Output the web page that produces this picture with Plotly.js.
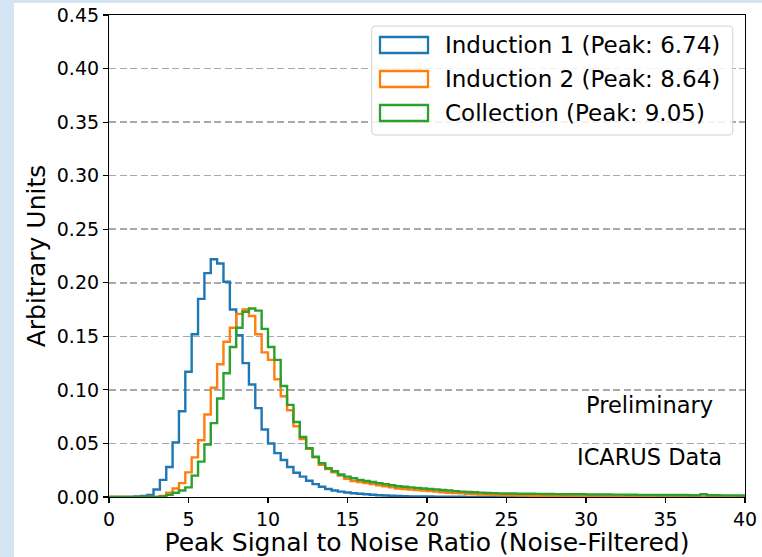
<!DOCTYPE html>
<html>
<head>
<meta charset="utf-8">
<script src="https://cdn.plot.ly/plotly-3.0.1.min.js"></script>
<style>
  html, body { margin: 0; padding: 0; background: #d5e4f3; width: 762px; height: 557px; overflow: hidden; }
  #plot { position: absolute; left: 14px; top: 3px; width: 748px; height: 554px; background: #ffffff; }
</style>
</head>
<body>
<div id="plot"></div>
<script>
// Bin edges: 0 to 40 in 100 bins (width 0.4)
const binStart = 0;
const binEnd = 40;
const nBins = 100;

const seriesNames = ["Induction 1 (Peak: 6.74)", "Induction 2 (Peak: 8.64)", "Collection (Peak: 9.05)"];
const seriesColors = ["#1f77b4", "#ff7f0e", "#2ca02c"];

const induction1 = [
  0, 0, 0, 0, 0.0005, 0.001, 0.002, 0.007, 0.016, 0.028,
  0.051, 0.080, 0.117, 0.152, 0.185, 0.209, 0.222, 0.218, 0.201, 0.175,
  0.151, 0.125, 0.105, 0.083, 0.063, 0.050, 0.041, 0.0345, 0.028, 0.0227,
  0.019, 0.0152, 0.012, 0.0096, 0.0075, 0.006, 0.005, 0.0042, 0.0035, 0.003,
  0.0025, 0.0021, 0.0017, 0.0014, 0.0011, 0.0009, 0.0007, 0.0006, 0.0005, 0.0004,
  0.0004, 0.0003, 0.0003, 0.0002, 0.0002, 0.0002, 0.0001, 0.0001, 0.0001, 0.0001,
  0, 0, 0, 0, 0, 0, 0, 0, 0, 0,
  0, 0, 0, 0, 0, 0, 0, 0, 0, 0,
  0, 0, 0, 0, 0, 0, 0, 0, 0, 0,
  0, 0, 0, 0, 0, 0, 0, 0, 0, 0
];

const induction2 = [
  0, 0, 0, 0, 0, 0, 0, 0, 0.001, 0.004,
  0.008, 0.013, 0.023, 0.037, 0.053, 0.077, 0.102, 0.124, 0.145, 0.158,
  0.171, 0.175, 0.169, 0.152, 0.135, 0.128, 0.110, 0.094, 0.081, 0.066,
  0.054, 0.045, 0.037, 0.030, 0.026, 0.023, 0.020, 0.017, 0.015, 0.014,
  0.013, 0.012, 0.011, 0.010, 0.009, 0.008, 0.0075, 0.007, 0.0065, 0.006,
  0.0055, 0.005, 0.0045, 0.004, 0.0037, 0.0034, 0.003, 0.0027, 0.0024, 0.0022,
  0.002, 0.0018, 0.0017, 0.0015, 0.0014, 0.0013, 0.0012, 0.0011, 0.001, 0.0009,
  0.0008, 0.0007, 0.0007, 0.0006, 0.0006, 0.0005, 0.0005, 0.0004, 0.0004, 0.0004,
  0.0003, 0.0003, 0.0003, 0.0003, 0.0002, 0.0002, 0.0002, 0.0002, 0.0002, 0.0002,
  0.0001, 0.0001, 0.0001, 0.0001, 0.0001, 0.0001, 0.0001, 0.0001, 0.0001, 0.0001
];

const collection = [
  0, 0, 0, 0, 0, 0, 0, 0, 0.0005, 0.002,
  0.004, 0.006, 0.009, 0.020, 0.033, 0.049, 0.069, 0.092, 0.1155, 0.140,
  0.158, 0.173, 0.176, 0.174, 0.157, 0.140, 0.128, 0.1036, 0.086, 0.070,
  0.056, 0.0455, 0.0376, 0.0315, 0.0268, 0.024, 0.021, 0.019, 0.0175, 0.016,
  0.015, 0.014, 0.013, 0.012, 0.011, 0.010, 0.0095, 0.009, 0.0085, 0.008,
  0.0075, 0.007, 0.0065, 0.006, 0.0055, 0.005, 0.0047, 0.0044, 0.0041, 0.0038,
  0.0036, 0.0034, 0.0033, 0.0032, 0.0031, 0.003, 0.003, 0.0029, 0.0028, 0.0028,
  0.0027, 0.0026, 0.0026, 0.0025, 0.0025, 0.0024, 0.0024, 0.0023, 0.0023, 0.0022,
  0.0022, 0.0021, 0.0021, 0.002, 0.002, 0.002, 0.0019, 0.0019, 0.0018, 0.0018,
  0.0018, 0.0017, 0.0017, 0.0025, 0.0016, 0.0016, 0.0015, 0.0015, 0.0015, 0.0014
];

const xTicks = [0, 5, 10, 15, 20, 25, 30, 35, 40];
const yTicks = [0, 0.05, 0.10, 0.15, 0.20, 0.25, 0.30, 0.35, 0.40, 0.45];
const xLabel = "Peak Signal to Noise Ratio (Noise-Filtered)";
const yLabel = "Arbitrary Units";
const textNotes = ["Preliminary", "ICARUS Data"];

const allSeries = [induction1, induction2, collection];
const binWidth = (binEnd - binStart) / nBins;

function stepTrace(vals, color, name) {
  const xs = [binStart];
  const ys = [0];
  for (let i = 0; i < vals.length; i++) {
    xs.push(binStart + i * binWidth);
    ys.push(vals[i]);
  }
  xs.push(binEnd); ys.push(vals[vals.length - 1]);
  xs.push(binEnd); ys.push(0);
  return {
    type: 'scatter', mode: 'lines', x: xs, y: ys, name: name,
    line: { shape: 'hv', color: color, width: 2.4 },
    showlegend: false, hoverinfo: 'skip', cliponaxis: true
  };
}

const traces = allSeries.map((s, i) => stepTrace(s, seriesColors[i], seriesNames[i]));

const FONT = "DejaVu Sans, Verdana, sans-serif";

// Legend geometry (paper coordinates)
const lgX0 = 0.4131, lgX1 = 0.9807, lgY0 = 0.7510, lgY1 = 0.9772;
const rx = 0.0065, ry = 0.0085;
const legendPath =
  `M ${lgX0 + rx},${lgY1} L ${lgX1 - rx},${lgY1} Q ${lgX1},${lgY1} ${lgX1},${lgY1 - ry} ` +
  `L ${lgX1},${lgY0 + ry} Q ${lgX1},${lgY0} ${lgX1 - rx},${lgY0} ` +
  `L ${lgX0 + rx},${lgY0} Q ${lgX0},${lgY0} ${lgX0},${lgY0 + ry} ` +
  `L ${lgX0},${lgY1 - ry} Q ${lgX0},${lgY1} ${lgX0 + rx},${lgY1} Z`;

const rowCenters = [0.9378, 0.8672, 0.7967];
const symH = 0.0166;
const shapes = [{
  type: 'path', xref: 'paper', yref: 'paper', path: legendPath,
  fillcolor: 'rgba(255,255,255,0.85)', line: { color: '#d0d0d0', width: 1 }, layer: 'above'
}];
const annotations = [];
rowCenters.forEach((yc, i) => {
  shapes.push({
    type: 'rect', xref: 'paper', yref: 'paper',
    x0: 0.4261, x1: 0.5016, y0: yc - symH, y1: yc + symH,
    line: { color: seriesColors[i], width: 2.3 }, fillcolor: 'rgba(0,0,0,0)', layer: 'above'
  });
  annotations.push({
    xref: 'paper', yref: 'paper', x: 0.5250, y: yc, xanchor: 'left', yanchor: 'middle',
    text: seriesNames[i], showarrow: false, font: { family: FONT, size: 23, color: '#000' }
  });
});
annotations.push({
  xref: 'paper', yref: 'paper', x: 0.8506, y: 0.1909, xanchor: 'center', yanchor: 'middle',
  text: textNotes[0], showarrow: false, font: { family: FONT, size: 22.5, color: '#000' }
});
annotations.push({
  xref: 'paper', yref: 'paper', x: 0.8506, y: 0.083, xanchor: 'center', yanchor: 'middle',
  text: textNotes[1], showarrow: false, font: { family: FONT, size: 22.5, color: '#000' }
});

const layout = {
  width: 748, height: 554,
  margin: { l: 95, r: 17, t: 12, b: 60, pad: 0 },
  paper_bgcolor: '#ffffff', plot_bgcolor: '#ffffff',
  font: { family: FONT, color: '#000', size: 19 },
  showlegend: false,
  xaxis: {
    range: [binStart, binEnd], tickvals: xTicks, ticktext: xTicks.map(String),
    ticks: 'outside', ticklen: 5, tickwidth: 1.1, tickcolor: '#000',
    showline: true, linecolor: '#000', linewidth: 1.1, mirror: true,
    showgrid: false, zeroline: false,
    tickfont: { family: FONT, size: 19, color: '#000' },
    title: { text: xLabel, font: { family: FONT, size: 25, color: '#000' }, standoff: 6 },
    automargin: false
  },
  yaxis: {
    range: [0, 0.45], tickvals: yTicks, ticktext: yTicks.map(v => v.toFixed(2)),
    ticks: 'outside', ticklen: 5, tickwidth: 1.1, tickcolor: '#000',
    showline: true, linecolor: '#000', linewidth: 1.1, mirror: true,
    showgrid: true, gridcolor: '#a9a9a9', gridwidth: 1.5, griddash: '7px,3.5px',
    zeroline: false,
    tickfont: { family: FONT, size: 19, color: '#000' },
    title: { text: yLabel, font: { family: FONT, size: 25, color: '#000' }, standoff: 4 },
    automargin: false
  },
  shapes: shapes,
  annotations: annotations
};

Plotly.newPlot('plot', traces, layout, { displayModeBar: false, staticPlot: true });
</script>
</body>
</html>
